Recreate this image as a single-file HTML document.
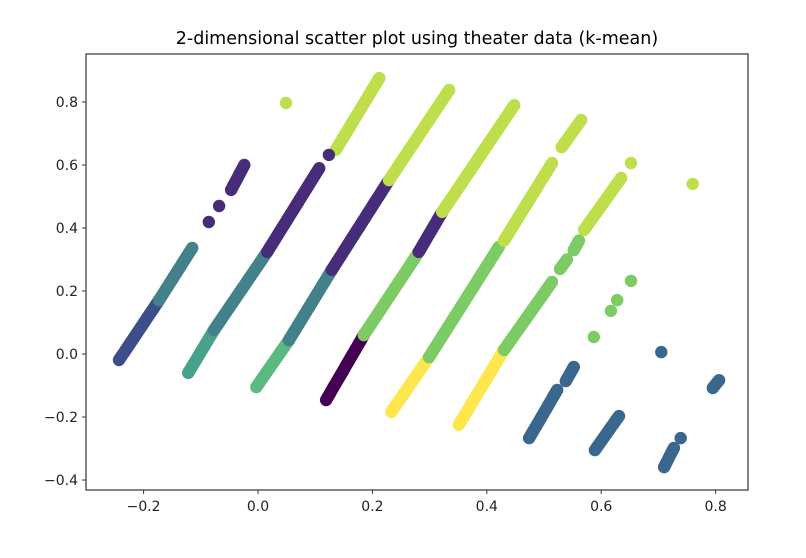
<!DOCTYPE html>
<html><head><meta charset="utf-8"><style>
body{margin:0;background:#fff;}
svg{display:block;font-family:"DejaVu Sans","Liberation Sans",sans-serif;}
</style></head><body>
<svg id="chart" width="806" height="558" viewBox="0 0 806 558">
<text x="417" y="44" font-size="17.5" text-anchor="middle" fill="#000">2-dimensional scatter plot using theater data (k-mean)</text>
<g id="marks"></g>
<rect x="86" y="54" width="662" height="436" fill="none" stroke="#333" stroke-width="1.2"/>
<g id="axes"></g>
</svg>
<script>
const xTicks = [-0.2, 0.0, 0.2, 0.4, 0.6, 0.8];
const yTicks = [-0.4, -0.2, 0.0, 0.2, 0.4, 0.6, 0.8];
const palette = ["#440154","#472c7a","#3d4e8a","#3a678e","#43818b","#48a18a","#5cb97f","#7ccb64","#bedf4b","#fde74c"];
// segments: [x1, y1, x2, y2, colorIndex]
const segX1 = [-0.243,-0.173,-0.047,-0.122,-0.077,0.016,0.136,-0.003,0.054,0.129,0.229,0.119,0.185,0.281,0.322,0.233,0.299,0.43,0.531,0.351,0.430,0.528,0.552,0.570,0.474,0.538,0.589,0.710,0.795];
const segY1 = [-0.019,0.171,0.521,-0.060,0.076,0.324,0.648,-0.105,0.044,0.267,0.552,-0.146,0.060,0.324,0.451,-0.184,-0.010,0.36,0.657,-0.225,0.013,0.27,0.33,0.394,-0.267,-0.086,-0.305,-0.359,-0.108];
const segX2 = [-0.173,-0.115,-0.024,-0.077,0.016,0.107,0.212,0.054,0.129,0.229,0.334,0.185,0.281,0.322,0.448,0.299,0.421,0.514,0.565,0.430,0.514,0.540,0.561,0.635,0.523,0.552,0.631,0.727,0.806];
const segY2 = [0.171,0.337,0.600,0.076,0.324,0.590,0.876,0.044,0.267,0.552,0.838,0.060,0.324,0.451,0.790,-0.010,0.340,0.606,0.743,0.013,0.229,0.30,0.36,0.559,-0.114,-0.041,-0.197,-0.298,-0.083];
const segC  = [2,4,1,5,4,1,8,6,4,1,8,0,7,1,8,9,7,8,8,9,7,7,7,8,3,3,3,3,3];
// single points
const ptX = [-0.086,-0.068,0.124,0.652,0.587,0.617,0.628,0.652,0.705,0.760,0.049,0.739];
const ptY = [0.419,0.470,0.632,0.606,0.054,0.137,0.171,0.232,0.006,0.540,0.797,-0.267];
const ptC = [1,1,1,8,7,7,7,7,3,8,8,3];

const L=86,R=748,T=54,B=490, xMin=-0.3007, xMax=0.8566, yMin=-0.4317, yMax=0.9524;
const sx=v=>L+(v-xMin)/(xMax-xMin)*(R-L);
const sy=v=>B-(v-yMin)/(yMax-yMin)*(B-T);
const NS="http://www.w3.org/2000/svg";
const marks=document.getElementById('marks');
function dot(x,y,c){
  const e=document.createElementNS(NS,'circle');
  
  
  e.setAttribute('cx',sx(x).toFixed(1));e.setAttribute('cy',sy(y).toFixed(1));
  e.setAttribute('r','6.2');e.setAttribute('fill',palette[c]);
  marks.appendChild(e);
}
for(let i=0;i<segX1.length;i++){
  const dx=sx(segX2[i])-sx(segX1[i]), dy=sy(segY2[i])-sy(segY1[i]);
  const n=Math.max(1,Math.round(Math.hypot(dx,dy)/2));
  for(let k=0;k<=n;k++){const t=k/n;dot(segX1[i]+(segX2[i]-segX1[i])*t,segY1[i]+(segY2[i]-segY1[i])*t,segC[i]);}
}
for(let i=0;i<ptX.length;i++) dot(ptX[i],ptY[i],ptC[i]);
const axes=document.getElementById('axes');
function el(tag,attrs,text){const e=document.createElementNS(NS,tag);for(const k in attrs)e.setAttribute(k,attrs[k]);if(text!==undefined)e.textContent=text;axes.appendChild(e);return e;}
xTicks.forEach(v=>{
  const x=sx(v);
  const t=el('line',{x1:x,x2:x,y1:B,y2:B+4,stroke:'#333','stroke-width':1});
  
  
  const l=el('text',{x:x,y:B+21,'font-size':14,'text-anchor':'middle',fill:'#222'},(v<0?'\u2212':'')+Math.abs(v).toFixed(1));
  
  
});
yTicks.forEach(v=>{
  const y=sy(v);
  const t=el('line',{x1:L-4,x2:L,y1:y,y2:y,stroke:'#333','stroke-width':1});
  
  
  const l=el('text',{x:L-8,y:y+5,'font-size':14,'text-anchor':'end',fill:'#222'},(v<0?'\u2212':'')+Math.abs(v).toFixed(1));
  
  
});
</script>
</body></html>
